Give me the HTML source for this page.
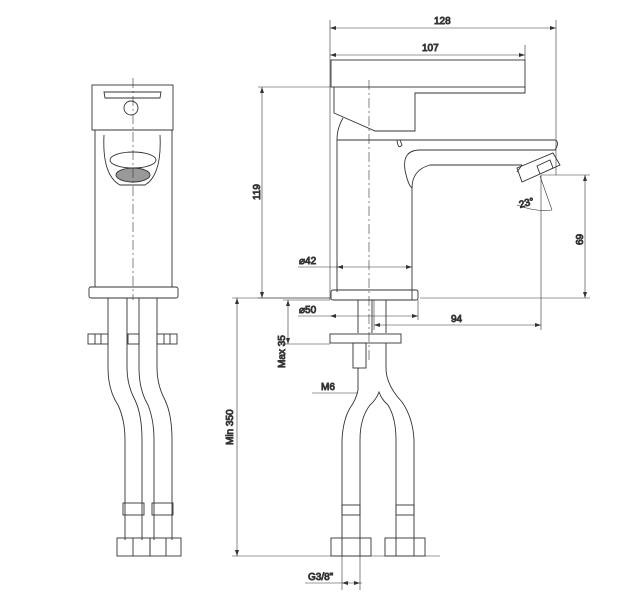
<!DOCTYPE html>
<html><head><style>body{margin:0;background:#fff}svg{display:block}text{font-family:"Liberation Sans",sans-serif;font-size:10px;fill:#333;font-weight:normal}</style></head>
<body>
<svg width="632" height="600" viewBox="0 0 632 600" fill="none" stroke="#333" stroke-width="0.9">
<!-- FRONT VIEW -->
<rect x="92" y="85" width="81" height="45"/>
<path d="M104 92 L161 92 L160 98 L105 98 Z"/>
<circle cx="131" cy="108" r="7"/>
<rect x="95" y="130" width="77" height="157"/>
<path d="M104 135 Q102 175 120 185 L145 185 Q162 175 160 135"/>
<ellipse cx="133" cy="160" rx="23" ry="8"/>
<ellipse cx="133" cy="175" rx="17" ry="7" fill="#999"/>
<rect x="89" y="287" width="89" height="11" rx="2"/>
<line x1="133" y1="78" x2="133" y2="300" stroke-dasharray="10 3 2 3" stroke-width="0.6"/>
<path d="M108 298 V368 Q108 390 118 405 Q125 420 125 440 V540 M127 298 V368 Q127 385 135 400 Q142 415 142 440 V540"/>
<path d="M139 298 V368 Q139 390 148 405 Q154 420 154 440 V540 M157 298 V368 Q157 385 165 400 Q172 415 172 440 V540"/>
<rect x="88" y="334" width="20" height="10"/><rect x="128" y="334" width="11" height="10"/><rect x="157" y="334" width="20" height="10"/>
<line x1="95" y1="334" x2="95" y2="344"/><line x1="101" y1="334" x2="101" y2="344"/><line x1="164" y1="334" x2="164" y2="344"/><line x1="170" y1="334" x2="170" y2="344"/>
<rect x="123" y="503" width="21" height="12"/><rect x="152" y="503" width="21" height="12"/>
<rect x="117" y="538" width="33" height="18"/><rect x="150" y="538" width="31" height="18"/>
<line x1="133" y1="538" x2="133" y2="556"/><line x1="166" y1="538" x2="166" y2="556"/>
<!-- SIDE VIEW -->
<rect x="331" y="60" width="194" height="27"/>
<path d="M334 87 L334 113 L375 131 L415 131 L415 93 L525 93 L525 87"/>
<path d="M343 118 Q337 128 337 140 V292 M412 300 V188 Q412 170 430 165 L522 165"/>
<path d="M337 140 L412 140 M397 140 Q398 150 402 145 L400 140"/>
<path d="M400 140 L555 140 Q560 142 555 150 L420 150 Q402 150 405 170 Q408 185 412 188"/>
<path d="M405 140 L420 140 M522 165 L517 172"/>
<path d="M517 168 L553 153 L560 165 L522 182 Z M537 166 L550 160 L553 168 L540 174 Z"/>
<line x1="369" y1="80" x2="369" y2="360" stroke-dasharray="10 3 2 3" stroke-width="0.6"/>
<rect x="331" y="290" width="87" height="10" rx="2"/>
<path d="M358 300 V333 M386 300 V333 M372 300 V333"/>
<rect x="330" y="334" width="71" height="9"/>
<rect x="353" y="343" width="13" height="25"/>
<path d="M358 368 V390 Q356 400 350 408 Q343 420 342 440 V540 M360 540 V440 Q360 418 370 405 Q376 400 379 392 Q382 400 388 405 Q396 418 396 440 V540 M414 540 V440 Q413 418 402 402 Q386 385 386 368 V343"/>
<rect x="342" y="505" width="18" height="10"/><rect x="396" y="505" width="18" height="10"/>
<rect x="331" y="538" width="40" height="18"/><rect x="385" y="538" width="40" height="18"/>
<path d="M342 538V556 M360 538V556 M396 538V556 M414 538V556"/>
<!-- DIMENSIONS -->
<g stroke-width="0.6">
<path d="M330 20 V300 M556 20 V175 M525 45 V60 M330 28 H556 M330 55 H525"/>
<path d="M258 87 H330 M258 298 H330 M262 87 V298"/>
<path d="M298 267 H412 M337 262 V272"/>
<path d="M298 316 H418 M418 300 V320"/>
<path d="M374 300 V330 M374 325 H541 M541 175 V330"/>
<path d="M541 175 H590 M420 298 H590 M585 175 V298"/>
<path d="M232 298 H330 M237 298 V556 M232 556 H440"/>
<path d="M283 300 H330 M288 300 V344 M283 344 H330"/>
<path d="M312 393 H358"/>
<path d="M305 583 H362 M342 556 V590 M360 556 V590"/>
<path d="M517 205 Q535 212 552 210 M540 176 L552 210"/>
</g>
<g fill="#333" stroke="none">
<path d="M330 28 l6 -2 v4z M556 28 l-6 -2 v4z M330 55 l6 -2 v4z M525 55 l-6 -2 v4z M262 87 l-2 6 h4z M262 298 l-2 -6 h4z M337 267 l6 -2 v4z M412 267 l-6 -2 v4z M330 316 l6 -2 v4z M418 316 l-6 -2 v4z M374 325 l6 -2 v4z M541 325 l-6 -2 v4z M585 175 l-2 6 h4z M585 298 l-2 -6 h4z M237 298 l-2 6 h4z M237 556 l-2 -6 h4z M288 300 l-2 6 h4z M288 344 l-2 -6 h4z M342 583 l6 -2 v4z M360 583 l-6 -2 v4z"/>
</g>
<text x="434" y="24">128</text>
<text x="422" y="51">107</text>
<text x="260" y="200" transform="rotate(-90 260 200)">119</text>
<text x="299" y="264">⌀42</text>
<text x="299" y="313">⌀50</text>
<text x="451" y="322">94</text>
<text x="583" y="245" transform="rotate(-90 583 245)">69</text>
<text x="520" y="208" transform="rotate(-15 520 208)">23°</text>
<text x="233" y="445" transform="rotate(-90 233 445)">Min 350</text>
<text x="285" y="368" transform="rotate(-90 285 368)">Max 35</text>
<text x="321" y="390">M6</text>
<text x="308" y="580">G3/8"</text>
</svg>
</body></html>
